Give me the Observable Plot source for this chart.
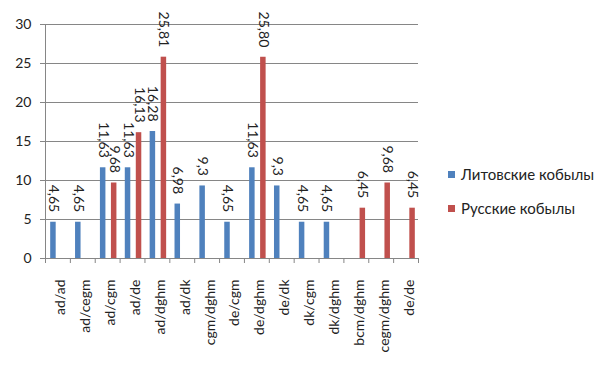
<!DOCTYPE html>
<html>
<head>
<meta charset="utf-8">
<script src="https://cdn.jsdelivr.net/npm/d3@7"></script>
<script src="https://cdn.jsdelivr.net/npm/@observablehq/plot@0.6"></script>
<style>
  body { margin: 0; background: #fff; font-family: Lato, "Open Sans", sans-serif; }
  #wrap { position: relative; width: 601px; height: 371px; }
  #legend { position: absolute; left: 448px; top: 163px; font-size: 15px; color: #222; }
  .item { display: flex; align-items: center; height: 22px; margin-bottom: 12px; }
  .sw { width: 7px; height: 7px; margin-right: 6px; }
</style>
</head>
<body>
<div id="wrap"></div>
<script>
const categories = ["ad/ad","ad/cegm","ad/cgm","ad/de","ad/dghm","ad/dk","cgm/dghm","de/cgm","de/dghm","de/dk","dk/cgm","dk/dghm","bcm/dghm","cegm/dghm","de/de"];
const seriesNames = ["Литовские кобылы", "Русские кобылы"];
const seriesColors = ["#4F81BD", "#C0504D"];
const litValues = [4.65, 4.65, 11.63, 11.63, 16.28, 6.98, 9.3, 4.65, 11.63, 9.3, 4.65, 4.65, null, null, null];
const litLabels = ["4,65","4,65","11,63","11,63","16,28","6,98","9,3","4,65","11,63","9,3","4,65","4,65", null, null, null];
const rusValues = [null, null, 9.68, 16.13, 25.81, null, null, null, 25.80, null, null, null, 6.45, 9.68, 6.45];
const rusLabels = [null, null, "9,68","16,13","25,81", null, null, null, "25,80", null, null, null, "6,45","9,68","6,45"];
const yTicks = [0, 5, 10, 15, 20, 25, 30];

const W = 601, H = 371, mL = 45, mR = 183, mT = 24, mB = 113;
const bw = (W - mL - mR) / categories.length;
const barW = 5.5;
const offs = [-4.5, 6.5];

function rows(values, labels, s) {
  return categories.map((c, i) => ({category: c, value: values[i], label: labels[i], series: seriesNames[s]}))
    .filter(d => d.value != null);
}
const lit = rows(litValues, litLabels, 0);
const rus = rows(rusValues, rusLabels, 1);

function inset(k) {
  const left = bw / 2 + offs[k] - barW / 2;
  return {insetLeft: left, insetRight: bw - left - barW};
}

const grid = "#868686";
const chart = Plot.plot({
  width: W, height: H,
  marginLeft: mL, marginRight: mR, marginTop: mT, marginBottom: mB,
  style: {fontFamily: "Lato, 'Open Sans', sans-serif", fontSize: "14px", color: "#222", background: "#fff"},
  x: {domain: categories, padding: 0, round: false},
  y: {domain: [0, 30]},
  color: {domain: seriesNames, range: seriesColors},
  marks: [
    Plot.gridY(yTicks.filter(t => t > 0), {stroke: grid, strokeOpacity: 1}),
    Plot.ruleY([0], {stroke: grid}),
    Plot.frame({anchor: "left", stroke: grid}),
    Plot.axisY({ticks: yTicks, tickSize: 5, tickPadding: 9, stroke: grid, label: null, fontSize: 14}),
    Plot.axisX({tickSize: 0, tickRotate: -90, tickPadding: 21, dx: 3, label: null, fontSize: 14}),
    Plot.ruleX(categories, {x: d => d, y1: 0, y2: 0, insetBottom: -5, dx: -bw / 2, stroke: grid}),
    Plot.ruleX(categories.slice(-1), {x: d => d, y1: 0, y2: 0, insetBottom: -5, dx: bw / 2, stroke: grid}),
    Plot.barY(lit, {x: "category", y: "value", fill: "series", ...inset(0)}),
    Plot.barY(rus, {x: "category", y: "value", fill: "series", ...inset(1)}),
    Plot.text(lit, {x: "category", y: "value", text: "label", rotate: 90, textAnchor: "end", lineAnchor: "middle", dy: -10, dx: offs[0], fill: "#222", fontSize: 14}),
    Plot.text(rus, {x: "category", y: "value", text: "label", rotate: 90, textAnchor: "end", lineAnchor: "middle", dy: -10, dx: offs[1], fill: "#222", fontSize: 14})
  ]
});
const wrap = document.getElementById("wrap");
wrap.appendChild(chart);
const legend = document.createElement("div");
legend.id = "legend";
seriesNames.forEach((n, i) => {
  const it = document.createElement("div");
  it.className = "item";
  const sw = document.createElement("span");
  sw.className = "sw";
  sw.style.background = seriesColors[i];
  const t = document.createElement("span");
  t.textContent = n;
  it.appendChild(sw); it.appendChild(t);
  legend.appendChild(it);
});
wrap.appendChild(legend);
</script>
</body>
</html>
